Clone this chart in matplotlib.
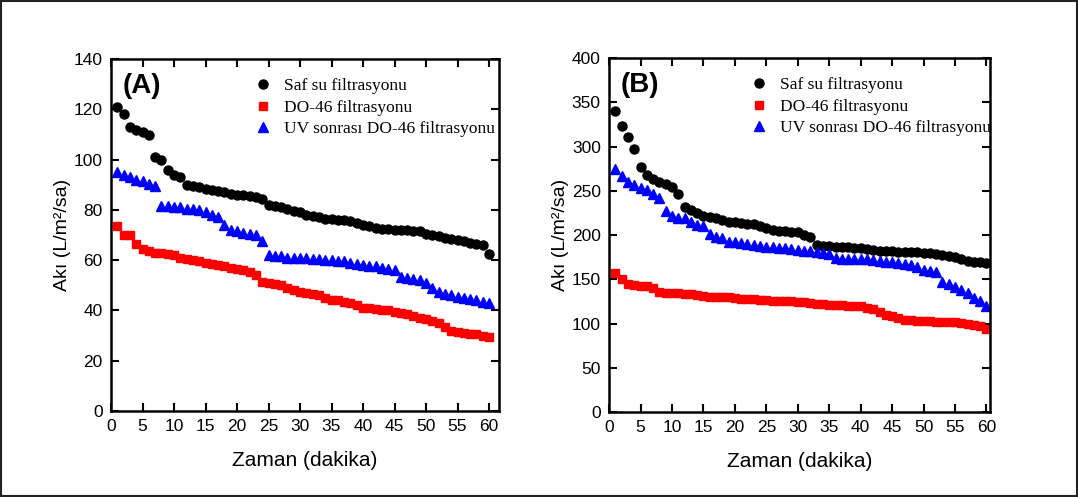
import matplotlib.pyplot as plt
from matplotlib.patches import Rectangle

# time (minutes)
zaman = list(range(1, 61))

# Panel A fluxes
a_saf = [121, 118, 113, 112, 111, 110, 101, 100, 96, 94,
         93, 90, 89.5, 89, 88.5, 88, 87.5, 87, 86.5, 86,
         86, 85.5, 85, 84.5, 82, 81.5, 81, 80.5, 79.5, 79,
         78, 77.5, 77, 76.5, 76.5, 76, 76, 75.5, 75, 74,
         73.5, 73, 72.5, 72.5, 72, 72, 72, 71.5, 71.5, 70.5,
         70, 69.5, 69, 68.5, 68, 67.5, 67, 66.5, 66, 62.4]
a_do46 = [73.6, 70, 70, 66.4, 64.4, 63.5, 63, 63, 62.5, 62,
          61, 60.5, 60, 59.5, 59, 58.5, 58, 57.5, 57, 56.5,
          56, 55.5, 54, 51.5, 51, 50.5, 50, 49, 48, 47.5,
          47, 46.5, 46, 45, 44, 44, 43.5, 43, 42, 41,
          41, 40.5, 40, 40, 39.5, 39, 38.5, 38, 37, 36.5,
          36, 35, 33.5, 32, 31.5, 31, 30.5, 30.5, 30, 29.5]
a_uv = [95, 94, 93, 92, 91.5, 90.5, 89.5, 81.5, 81.5, 81,
        81, 80.5, 80.5, 80, 79, 78, 77, 74, 72, 71.5,
        71, 70.5, 70, 67.5, 62, 61.5, 61.5, 61, 61, 61,
        61, 60.5, 60.5, 60, 60, 59.5, 59.5, 59, 58.5, 58,
        57.5, 57.5, 57, 56.5, 56, 53.5, 53, 52.5, 52, 51,
        49, 47.5, 46.5, 46, 45.5, 45, 44.5, 44, 43.5, 43]

# Panel B fluxes
b_saf = [340, 323.5, 311, 297, 277, 268, 263, 260, 258, 254.6,
         247, 232, 228, 225, 222, 221, 219, 217, 215, 215,
         214, 213, 212, 210, 208, 206, 205, 205, 204, 203,
         200, 198, 189, 188, 188, 187, 186, 186, 185, 185,
         184, 183, 182, 182, 182, 181, 181, 181, 181, 180,
         180, 179, 178, 176, 175, 173, 171, 170, 170, 169]
b_do46 = [157, 150, 145, 144, 143, 142, 140, 136, 135, 134.5,
          134, 133.5, 133, 132, 131, 130.5, 130, 130, 129.5, 129,
          128, 128, 127.5, 127, 126.5, 126, 125.5, 125, 125, 124.5,
          124, 123.5, 122.5, 122, 121.5, 121, 120.5, 120, 120, 119.5,
          118, 116, 113, 110, 108, 106, 104, 104, 103, 103,
          102.5, 102, 102, 102, 101.5, 101, 100, 98.5, 97, 94]
b_uv = [274.6, 266.7, 260, 256.5, 253, 251, 247, 241.5, 227.5, 221.5,
        219, 219, 215, 211, 210, 201, 198, 196.5, 192, 192,
        191, 190, 189, 188, 187, 186, 185, 185, 184, 183,
        182, 182, 181, 180, 179, 174, 173, 173, 173, 173,
        172.5, 172, 171, 170, 170, 169, 167, 166, 164, 161,
        159, 158, 147, 145, 141, 138, 134, 129, 125, 120]

labels = ["Saf su filtrasyonu", "DO-46 filtrasyonu", "UV sonrası DO-46 filtrasyonu"]
panels = [
    ("(A)", a_saf, a_do46, a_uv, 140, 20, 61.6),
    ("(B)", b_saf, b_do46, b_uv, 400, 50, 60.5),
]
axes_pos = [[0.103, 0.173, 0.360, 0.708], [0.565, 0.171, 0.353, 0.712]]

tick_font = "Liberation Sans"

fig = plt.figure(figsize=(10.78, 4.97), dpi=100)
fig.patches.append(Rectangle((0.001, 0.003), 0.998, 0.995, transform=fig.transFigure,
                             fill=False, edgecolor="#222222", linewidth=1.5))

for pos, (tag, saf, do46, uv, ymax, ystep, xmax) in zip(axes_pos, panels):
    ax = fig.add_axes(pos)
    ax.plot(zaman, saf, "o", color="black", markersize=6.5, label=labels[0])
    ax.plot(zaman, do46, "s", color="#ff0000", markersize=6, label=labels[1])
    ax.plot(zaman, uv, "^", color="#0000ff", markersize=6.5, label=labels[2])

    ax.set_xlim(0, xmax)
    ax.set_ylim(0, ymax)
    ax.set_xticks(range(0, 61, 5))
    ax.set_yticks(range(0, ymax + 1, ystep))
    ax.tick_params(direction="in", top=True, right=True, length=6, width=1.5,
                   labelsize=12.5, pad=6)
    for lab in ax.get_xticklabels() + ax.get_yticklabels():
        lab.set_family(tick_font)
    for sp in ax.spines.values():
        sp.set_linewidth(1.8)

    ax.set_xlabel("Zaman (dakika)", fontsize=15, family=tick_font, labelpad=12)
    ax.set_ylabel("Akı (L/m²/sa)", fontsize=14, family="Liberation Sans", labelpad=2)
    ax.text(0.03, 0.96, tag, transform=ax.transAxes, fontsize=20, fontweight="bold",
            family="Liberation Sans", va="top", ha="left")

    ax.legend(loc="upper left", bbox_to_anchor=(0.33, 0.99), frameon=False,
              prop={"family": "Liberation Serif", "size": 12.5},
              handlelength=1.0, handletextpad=0.7, labelspacing=0.3,
              numpoints=1)

fig.savefig("out.png", dpi=100)
